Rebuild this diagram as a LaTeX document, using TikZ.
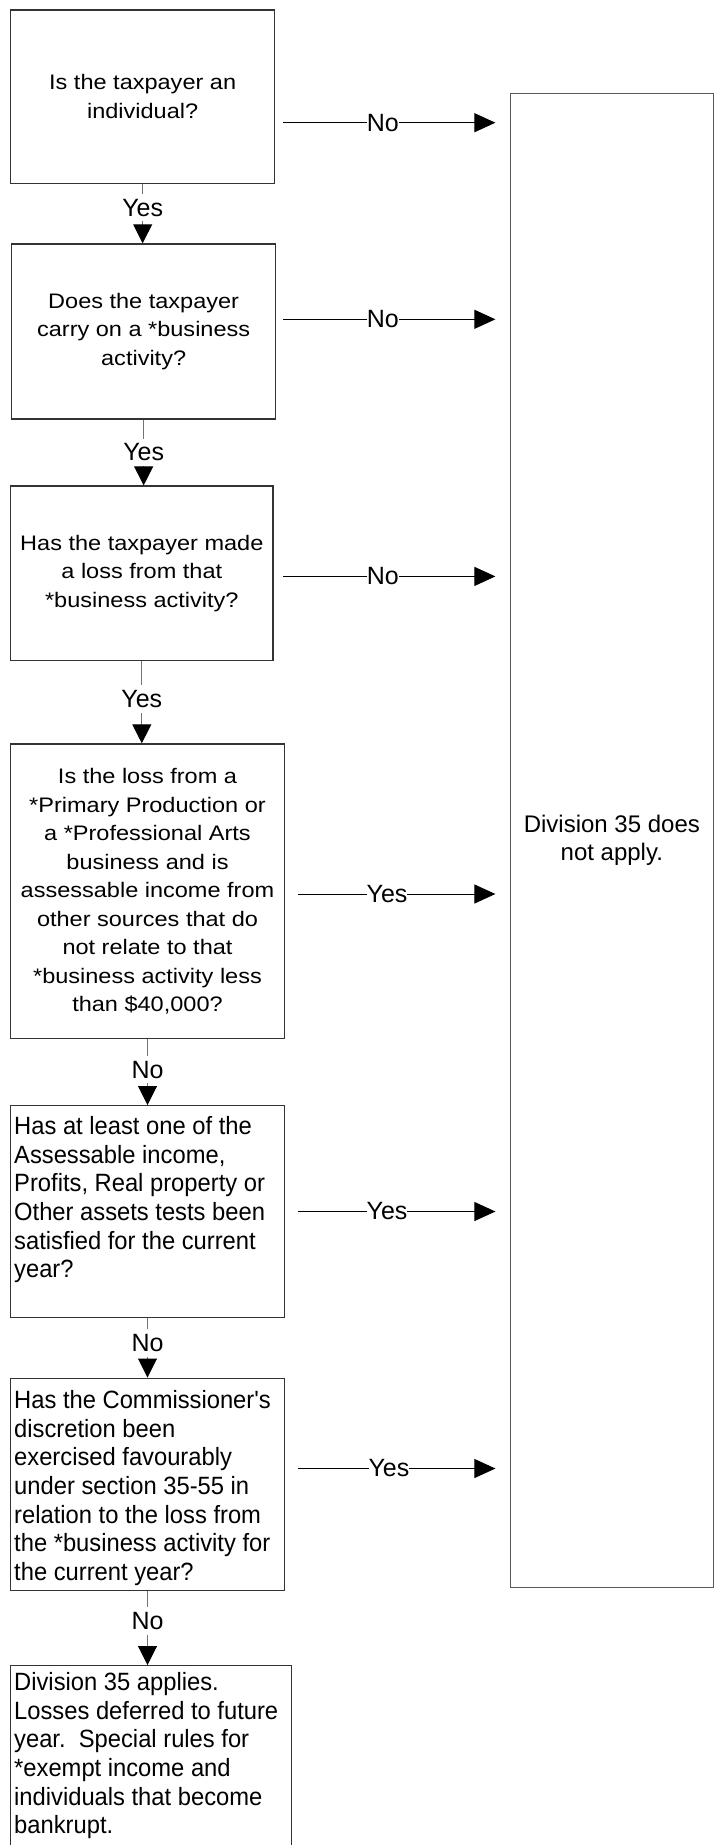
\documentclass[tikz,border=0pt]{standalone}
\usepackage{fontspec}
\setmainfont{Liberation Sans}
\newfontfamily\topfont[FakeStretch=1.12]{Liberation Sans}
\newfontfamily\botfont[FakeStretch=0.95]{Liberation Sans}
\usetikzlibrary{arrows.meta}
\begin{document}
\begin{tikzpicture}[x=1pt,y=-1pt,
  box/.style={draw=black!80, line width=1.3pt, rectangle, inner sep=0pt, anchor=north west},
  qtop/.style={box, align=center, font={\topfont\fontsize{21pt}{28.5pt}\selectfont}},
  qbot/.style={anchor=north west, inner sep=0pt, align=left, font={\botfont\fontsize{25pt}{28.7pt}\selectfont}},
  endbox/.style={draw=black!65, line width=1.2pt, rectangle, inner sep=0pt, anchor=north west, align=center, font={\fontsize{24pt}{28.5pt}\selectfont}},
  harrow/.style={draw=black, line width=1pt, -{Triangle[length=21pt,width=19pt]}},
  varrow/.style={draw=black!55, line width=1pt, -{Triangle[length=19pt,width=19pt,color=black]}},
  hlabel/.style={fill=white, inner xsep=0pt, inner ysep=2pt, font={\fontsize{25pt}{28pt}\selectfont}},
  vlabel/.style={fill=white, inner xsep=1pt, inner ysep=5pt, font={\fontsize{25pt}{28pt}\selectfont}}]
\useasboundingbox (0,0) rectangle (713,1845);

% question boxes
\node[qtop, minimum width=264pt, minimum height=173.4pt] (b1) at (10,9.3)
  {Is the taxpayer an\\individual?};
\node[qtop, minimum width=264pt, minimum height=175pt] (b2) at (11,243.3)
  {Does the taxpayer\\carry on a *business\\activity?};
\node[qtop, minimum width=262.3pt, minimum height=174.5pt] (b3) at (10,485.4)
  {Has the taxpayer made\\a loss from that\\*business activity?};
\node[qtop, minimum width=273.7pt, minimum height=294.7pt] (b4) at (10,743.3)
  {Is the loss from a\\*Primary Production or\\a *Professional Arts\\business and is\\assessable income from\\other sources that do\\not relate to that\\*business activity less\\than \$40,000?};

\node[box, minimum width=273.7pt, minimum height=212pt] (b5) at (10,1105) {};
\node[qbot] (b5t) at (14,1116)
  {Has at least one of the\\Assessable income,\\Profits, Real property or\\Other assets tests been\\satisfied for the current\\year?};
\node[box, minimum width=273.7pt, minimum height=212.5pt] (b6) at (10,1377.5) {};
\node[qbot] (b6t) at (14,1390)
  {Has the Commissioner's\\discretion been\\exercised favourably\\under section 35-55 in\\relation to the loss from\\the *business activity for\\the current year?};
\node[box, minimum width=280.5pt, minimum height=200pt] (b7) at (10,1665) {};
\node[qbot] (b7t) at (14,1672)
  {Division 35 applies.\\Losses deferred to future\\year.\ \ Special rules for\\*exempt income and\\individuals that become\\bankrupt.};

% result box
\node[endbox, minimum width=202.5pt, minimum height=1493.5pt] (d) at (510,93)
  {Division 35 does\\not apply.};

% vertical connectors
\draw[varrow] (b1.south) -- node[vlabel,pos=0.40]{Yes} (b1.south |- b2.north);
\draw[varrow] (b2.south) -- node[vlabel,pos=0.50]{Yes} (b2.south |- b3.north);
\draw[varrow] (b3.south) -- node[vlabel,pos=0.46]{Yes} (b3.south |- b4.north);
\draw[varrow] (b4.south) -- node[vlabel,pos=0.46]{No} (b4.south |- b5.north);
\draw[varrow] (b5.south) -- node[vlabel,pos=0.42]{No} (b5.south |- b6.north);
\draw[varrow] (b6.south) -- node[vlabel,pos=0.40]{No} (b6.south |- b7.north);

% horizontal connectors
\coordinate (s1) at (283,122.7);
\coordinate (s2) at (283,319.3);
\coordinate (s3) at (283,576.4);
\coordinate (s4) at (298.3,894);
\coordinate (s5) at (298.3,1211.5);
\coordinate (s6) at (298.3,1468.5);
\foreach \i in {1,...,6}{
  \coordinate (t\i) at ([xshift=-14.6pt]s\i -| d.west);
}
\draw[harrow] (s1) -- node[hlabel,pos=0.47]{No} (t1);
\draw[harrow] (s2) -- node[hlabel,pos=0.47]{No} (t2);
\draw[harrow] (s3) -- node[hlabel,pos=0.47]{No} (t3);
\draw[harrow] (s4) -- node[hlabel,pos=0.45]{Yes} (t4);
\draw[harrow] (s5) -- node[hlabel,pos=0.45]{Yes} (t5);
\draw[harrow] (s6) -- node[hlabel,pos=0.46]{Yes} (t6);
\end{tikzpicture}
\end{document}
